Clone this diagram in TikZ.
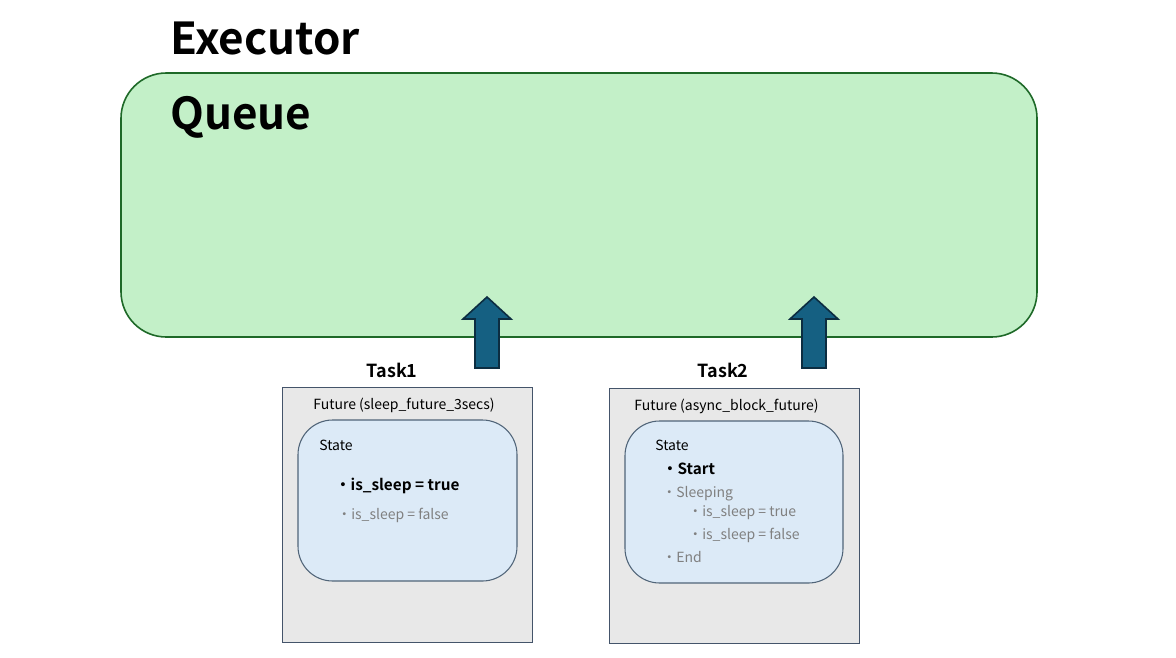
\documentclass[tikz,border=0pt]{standalone}
\usepackage{fontspec}
\setmainfont{Noto Sans CJK JP}[BoldFont={Noto Sans CJK JP Bold}]
\usepackage{xcolor}
\definecolor{queuegreen}{RGB}{195,240,200}
\definecolor{queueline}{RGB}{30,105,40}
\definecolor{arrowblue}{RGB}{21,96,130}
\definecolor{arrowline}{RGB}{12,45,65}
\definecolor{taskgray}{RGB}{232,232,232}
\definecolor{taskline}{RGB}{68,84,106}
\definecolor{stateblue}{RGB}{220,234,247}
\definecolor{stateline}{RGB}{80,100,120}
\definecolor{textgray}{RGB}{128,128,128}

\tikzset{
    txt/.style={anchor=west, inner sep=0pt, font=\fontsize{10.5}{12}\selectfont},
    big/.style={anchor=west, inner sep=0pt, font=\fontsize{33}{36}\selectfont\bfseries},
    upblock/.style={fill=arrowblue, draw=arrowline, line width=1.2pt}
}

\begin{document}
\begin{tikzpicture}[x=0.75pt, y=-0.75pt]
    \useasboundingbox (0,0) rectangle (1176,657);

    % executor queue
    \node[big] (exec) at (170,39) {Executor};
    \draw[fill=queuegreen, draw=queueline, line width=1.2pt, rounded corners=34pt] (121,73) rectangle (1037,337);
    \node[big] (queue) at (170,117) {Queue};

    % task 1
    \node[anchor=center, inner sep=0pt, font=\fontsize{13.5}{15}\selectfont\bfseries] (t1) at (392,370) {Task1};
    \draw[fill=taskgray, draw=taskline, line width=0.6pt] (282,387) rectangle (532,642);
    \node[txt] (f1) at (313,405) {Future (sleep\_future\_3secs)};
    \draw[fill=stateblue, draw=stateline, line width=0.8pt, rounded corners=26pt] (298,420) rectangle (517,581);
    \node[txt] (s1) at (319,445) {State};
    \node[txt, font=\fontsize{11.5}{14}\selectfont\bfseries] (s1a) at (335,486) {・is\_sleep = true};
    \node[txt, text=textgray] (s1b) at (337,515) {・is\_sleep = false};

    % task 2
    \node[anchor=center, inner sep=0pt, font=\fontsize{13.5}{15}\selectfont\bfseries] (t2) at (723,370) {Task2};
    \draw[fill=taskgray, draw=taskline, line width=0.6pt] (609,388) rectangle (859,643);
    \node[txt] (f2) at (634,406) {Future (async\_block\_future)};
    \draw[fill=stateblue, draw=stateline, line width=0.8pt, rounded corners=26pt] (625,421) rectangle (843,583);
    \node[txt] (s2) at (655,445) {State};
    \node[txt, font=\fontsize{11.5}{14}\selectfont\bfseries] (s2a) at (662,469) {・Start};
    \node[txt, text=textgray] (s2b) at (662,494) {・Sleeping};
    \node[txt, text=textgray] (s2c) at (688,513) {・is\_sleep = true};
    \node[txt, text=textgray] (s2d) at (688,535) {・is\_sleep = false};
    \node[txt, text=textgray] (s2e) at (662,557) {・End};

    % arrows into queue
    \coordinate (a1) at (487,368);
    \coordinate (a2) at (814,368);
    \draw[upblock] (a1) ++(-12,0) -- ++(0,-49) -- ++(-12,0) -- ++(24,-22) -- ++(24,22) -- ++(-12,0) -- ++(0,49) -- cycle;
    \draw[upblock] (a2) ++(-12,0) -- ++(0,-49) -- ++(-12,0) -- ++(24,-22) -- ++(24,22) -- ++(-12,0) -- ++(0,49) -- cycle;
\end{tikzpicture}
\end{document}
